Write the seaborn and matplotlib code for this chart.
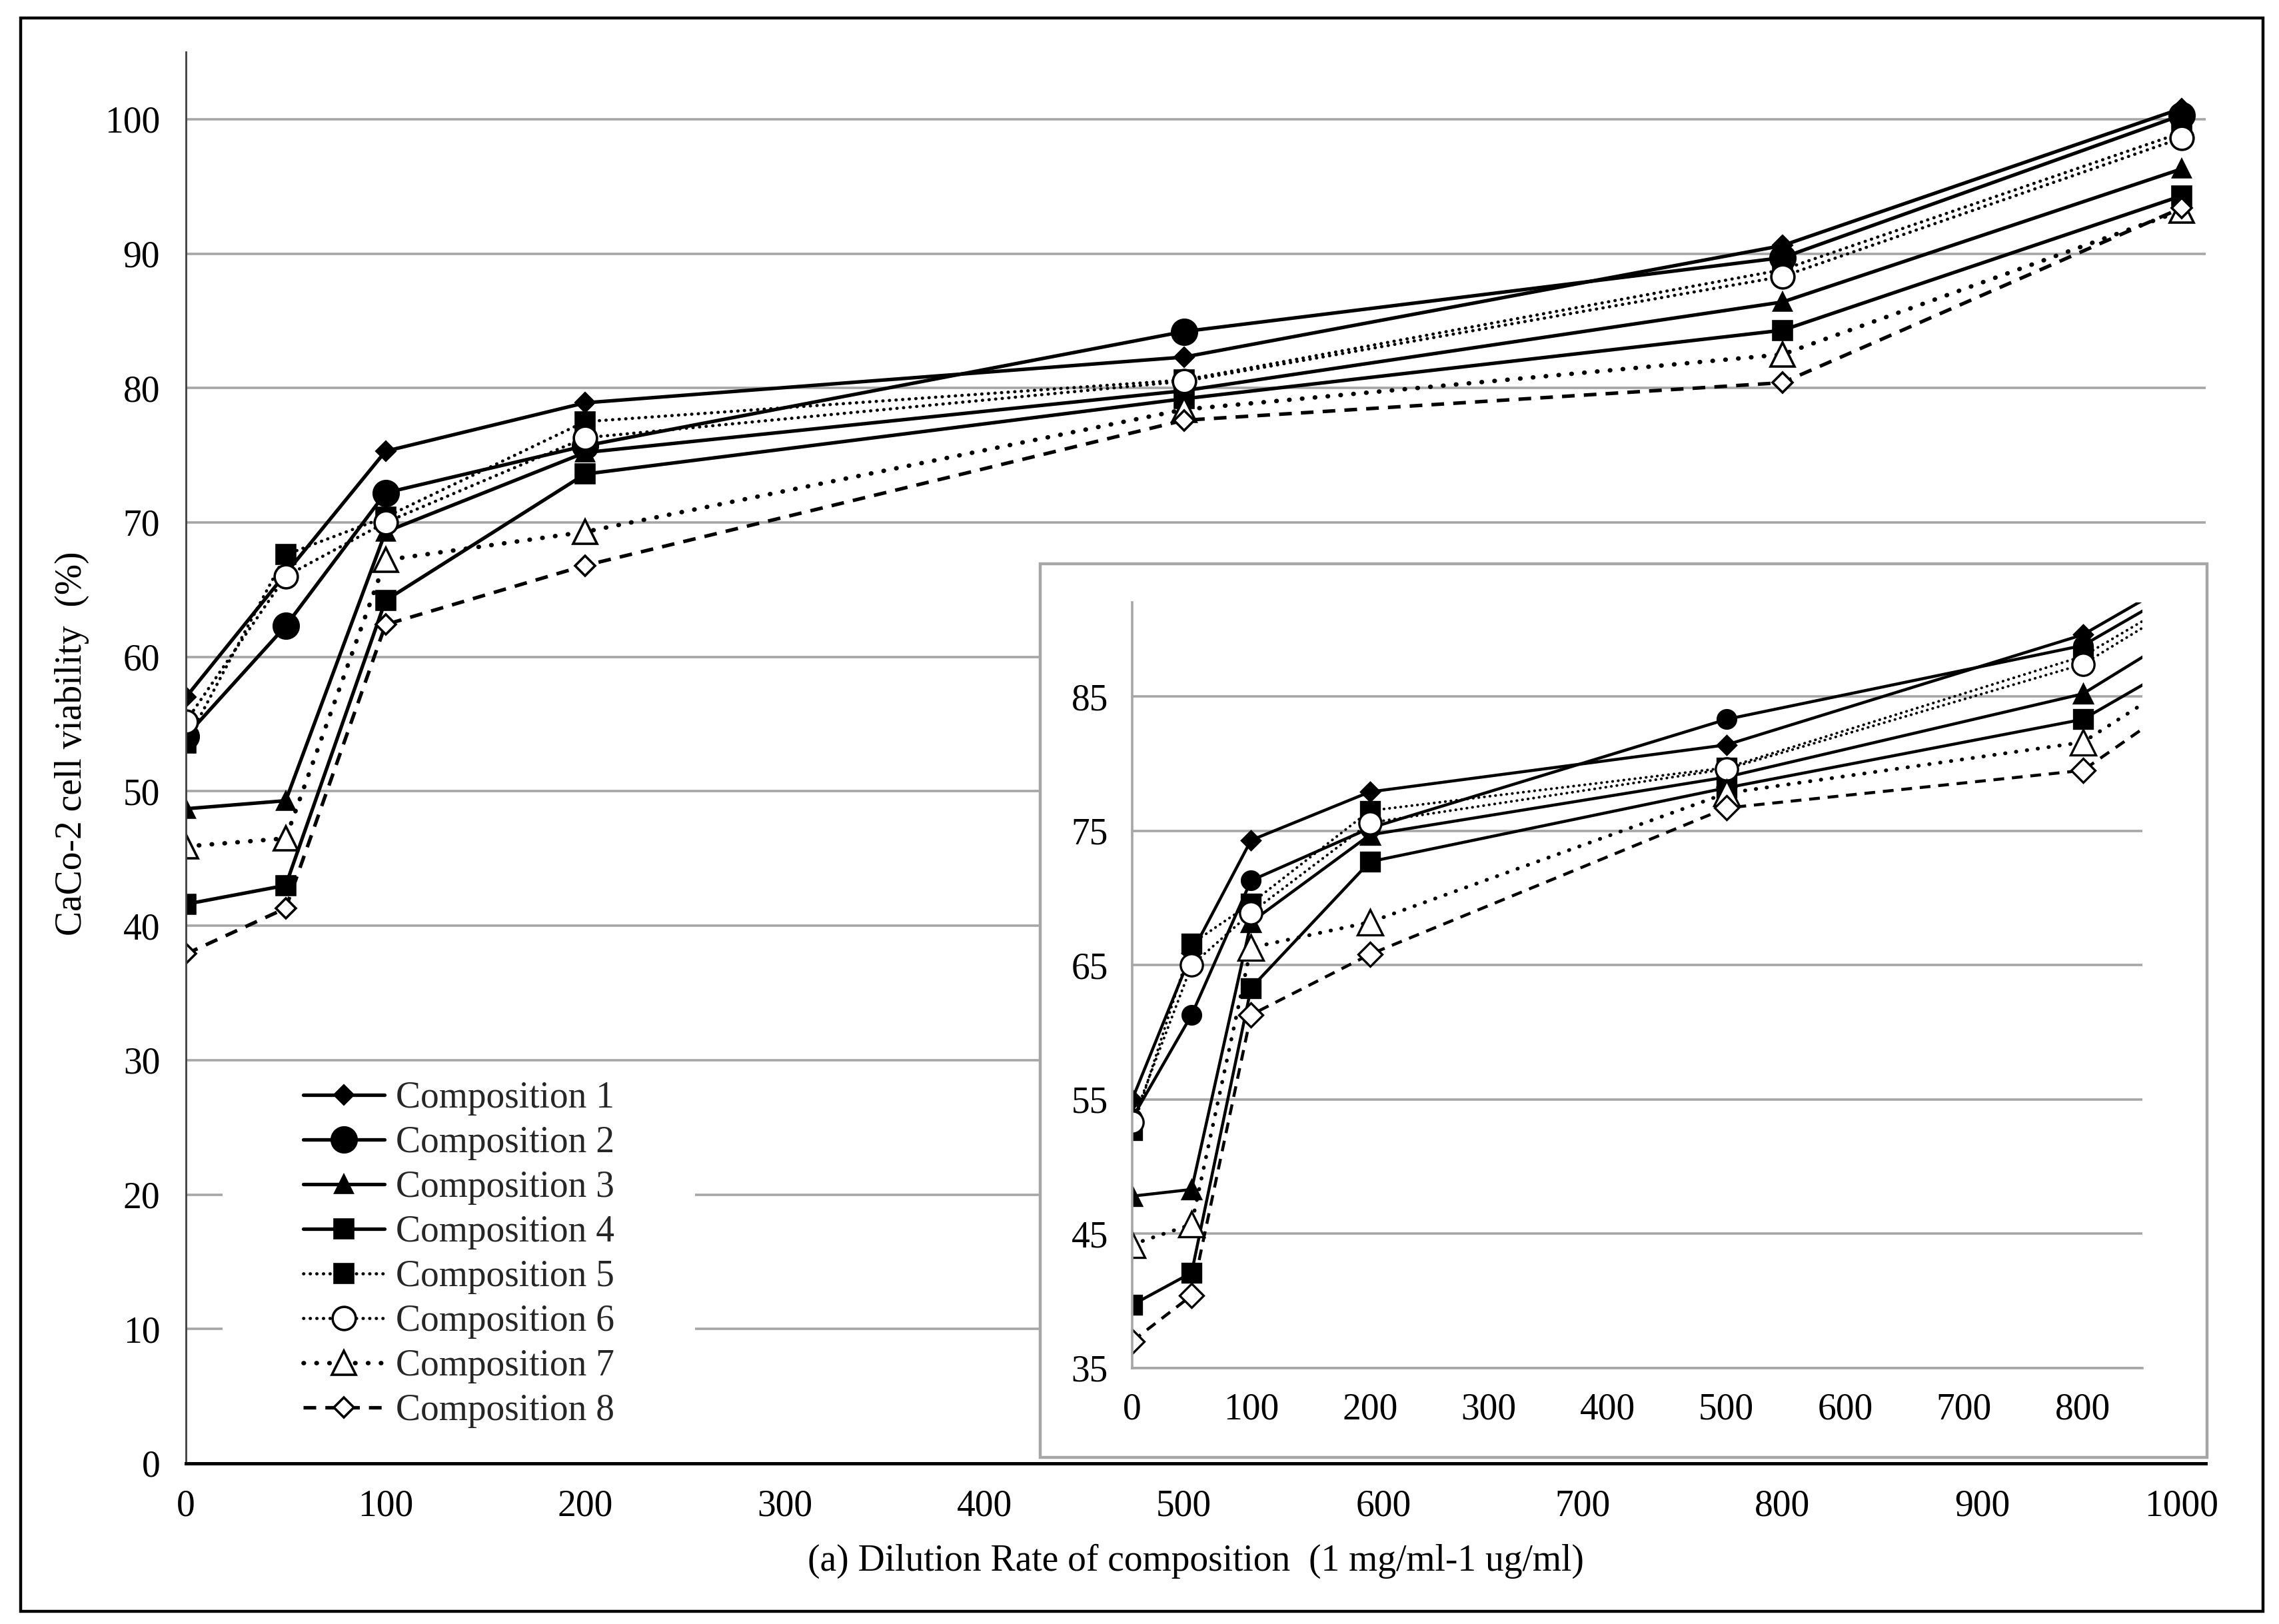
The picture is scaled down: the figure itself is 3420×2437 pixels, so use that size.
import matplotlib
matplotlib.use("Agg")
import matplotlib.pyplot as plt
import seaborn as sns
from matplotlib.patches import Rectangle

# dilution steps on the x axis
dilution = [0, 50, 100, 200, 500, 800, 1000]
labels = ["Composition 1", "Composition 2", "Composition 3", "Composition 4",
          "Composition 5", "Composition 6", "Composition 7", "Composition 8"]

# main chart values (%)
comp1 = [57.0, 66.2, 75.3, 78.9, 82.3, 90.6, 100.8]
comp2 = [54.1, 62.3, 72.2, 75.7, 84.2, 89.7, 100.3]
comp3 = [48.7, 49.3, 69.3, 75.2, 79.8, 86.4, 96.3]
comp4 = [41.6, 43.0, 64.2, 73.6, 79.2, 84.3, 94.3]
comp5 = [53.6, 67.6, 70.4, 77.5, 80.6, 88.8, 99.0]
comp6 = [55.2, 66.0, 70.0, 76.3, 80.5, 88.3, 98.6]
comp7 = [45.9, 46.5, 67.2, 69.3, 78.4, 82.5, 93.2]
comp8 = [37.9, 41.3, 62.4, 66.8, 77.6, 80.4, 93.4]

# inset chart values (%)
inset1 = [55.0, 65.9, 74.3, 77.9, 81.4, 89.6, 99.8]
inset2 = [53.6, 61.3, 71.3, 75.2, 83.3, 88.8, 99.0]
inset3 = [47.8, 48.3, 68.2, 74.7, 79.0, 85.2, 96.1]
inset4 = [39.7, 42.1, 63.3, 72.7, 78.2, 83.3, 93.5]
inset5 = [52.7, 66.6, 69.6, 76.5, 79.7, 88.0, 98.4]
inset6 = [53.3, 65.0, 68.9, 75.6, 79.6, 87.4, 98.2]
inset7 = [44.2, 45.7, 66.3, 68.2, 77.8, 81.6, 92.9]
inset8 = [37.0, 40.4, 61.3, 65.8, 76.7, 79.5, 91.8]

main_series = [comp1, comp2, comp3, comp4, comp5, comp6, comp7, comp8]
inset_series = [inset1, inset2, inset3, inset4, inset5, inset6, inset7, inset8]

sns.set_theme(style="white")
plt.rcParams["font.family"] = ["Liberation Serif", "DejaVu Serif"]

fine_dot = (0, (0.1, 2.0))
round_dot = (0, (0.1, 2.8))
dash = (0, (3.6, 2.6))

# marker, size main, size inset, face, linestyle, width
styles = [
    ("D", 7.0, 7.0, "black", "-", 1.9),
    ("o", 13.5, 10.0, "black", "-", 1.9),
    ("^", 9.5, 10.0, "black", "-", 1.9),
    ("s", 10.0, 10.0, "black", "-", 1.9),
    ("s", 10.0, 10.0, "black", fine_dot, 1.7),
    ("o", 12.5, 12.0, "white", fine_dot, 1.7),
    ("^", 13.0, 14.0, "white", round_dot, 2.4),
    ("D", 7.5, 9.0, "white", dash, 1.9),
]

fig = plt.figure(figsize=(17.1, 12.185), dpi=200)
ax = fig.add_axes([0.0816, 0.0989, 0.8862, 0.8691])
ax.set_zorder(0)

for vals, lab, (mk, ms, ms_in, face, ls, lw) in zip(main_series, labels, styles):
    sns.lineplot(x=dilution, y=vals, ax=ax, color="black", marker=mk, markersize=ms,
                 markerfacecolor=face, markeredgecolor="black", markeredgewidth=1.3,
                 linestyle=ls, linewidth=lw, dash_capstyle="round" if ls != dash else "butt",
                 label=lab, errorbar=None, sort=False)

ax.set_xlim(0, 1012)
ax.set_ylim(0, 105)
ax.set_xticks(range(0, 1001, 100))
ax.set_yticks(range(0, 101, 10))
ax.set_axisbelow(True)
ax.yaxis.grid(True, color="#a6a6a6", linewidth=1.3)
ax.xaxis.grid(False)
for side in ["top", "right"]:
    ax.spines[side].set_visible(False)
ax.spines["left"].set_color("#404040")
ax.spines["left"].set_linewidth(1.0)
ax.spines["bottom"].set_color("black")
ax.spines["bottom"].set_linewidth(1.8)
ax.tick_params(axis="both", length=0, labelsize=20, colors="black", pad=14)
ax.set_xlabel("(a) Dilution Rate of composition  (1 mg/ml-1 ug/ml)", fontsize=20, color="black")
ax.set_ylabel("CaCo-2 cell viability  (%)", fontsize=20, color="black")
ax.xaxis.set_label_coords(0.5, -0.057)
ax.yaxis.set_label_coords(-0.048, 0.51)

# white area behind the legend hides the gridlines
ax.add_patch(Rectangle((0.018, 0.012), 0.234, 0.267, transform=ax.transAxes,
                       facecolor="white", edgecolor="none", zorder=1))
handles, lbls = ax.get_legend_handles_labels()
ax.legend(handles, lbls, loc="center", bbox_to_anchor=(0.135, 0.148), frameon=False,
          fontsize=20, handlelength=2.2, handletextpad=0.3, labelspacing=0.27,
          borderpad=0.2, numpoints=1)

# outer frame and inset box
fig.patches.append(Rectangle((0.0091, 0.0078), 0.984, 0.981, transform=fig.transFigure,
                             fill=False, edgecolor="black", linewidth=1.6, zorder=5))
fig.patches.append(Rectangle((0.4564, 0.1026), 0.512, 0.5503, transform=fig.transFigure,
                             facecolor="white", edgecolor="#a6a6a6", linewidth=1.6, zorder=1))

ax_in = fig.add_axes([0.4968, 0.1576, 0.4432, 0.4714])
ax_in.set_zorder(2)
for vals, (mk, ms, ms_in, face, ls, lw) in zip(inset_series, styles):
    sns.lineplot(x=dilution, y=vals, ax=ax_in, color="black", marker=mk, markersize=ms_in,
                 markerfacecolor=face, markeredgecolor="black", markeredgewidth=1.2,
                 linestyle=ls, linewidth=lw * 0.85,
                 dash_capstyle="round" if ls != dash else "butt",
                 errorbar=None, sort=False)

ax_in.set_xlim(0, 850)
ax_in.set_ylim(35, 92)
ax_in.set_xticks(range(0, 801, 100))
ax_in.set_yticks(range(35, 86, 10))
ax_in.set_axisbelow(True)
ax_in.yaxis.grid(True, color="#a6a6a6", linewidth=1.3)
ax_in.xaxis.grid(False)
for side in ["top", "right"]:
    ax_in.spines[side].set_visible(False)
for side in ["left", "bottom"]:
    ax_in.spines[side].set_color("#a6a6a6")
    ax_in.spines[side].set_linewidth(1.3)
ax_in.tick_params(axis="both", length=0, labelsize=20, colors="black", pad=13)
ax_in.set_xlabel("")
ax_in.set_ylabel("")

fig.savefig("out.png", dpi=200, facecolor="white")
